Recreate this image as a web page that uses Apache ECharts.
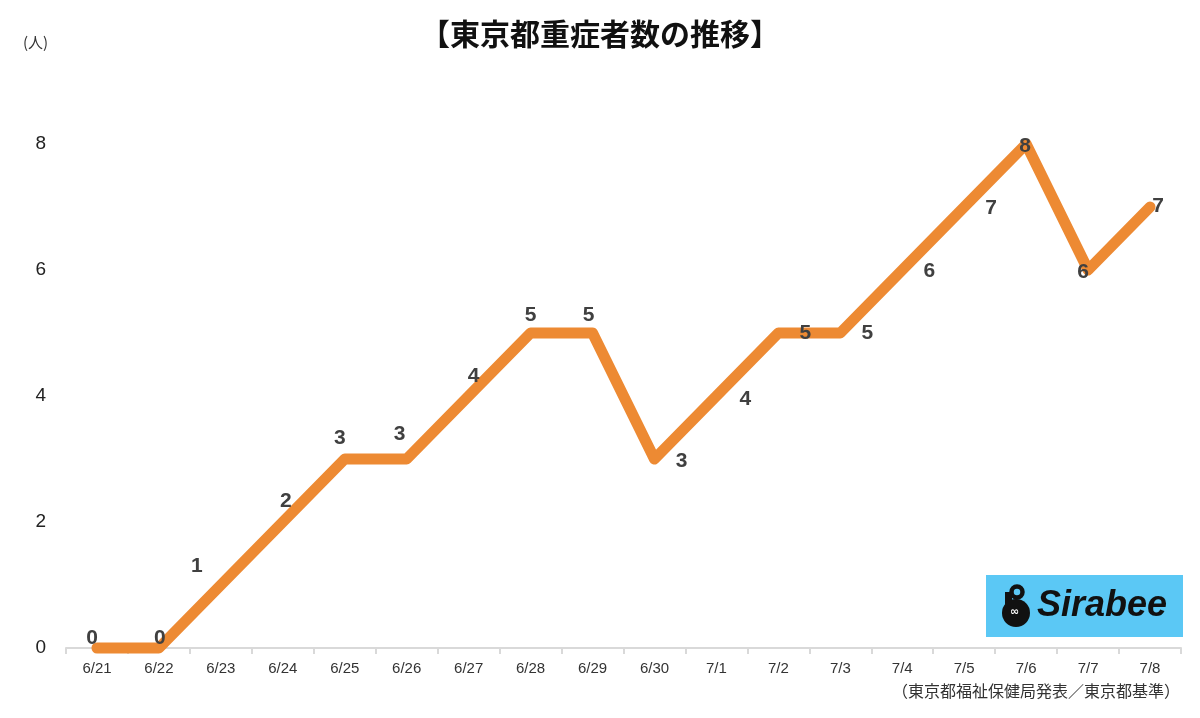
<!DOCTYPE html>
<html>
<head>
<meta charset="utf-8">
<script src="https://cdn.jsdelivr.net/npm/echarts@6/dist/echarts.min.js"></script>
<style>html,body{margin:0;padding:0;background:#fff}#c{width:1200px;height:718px}</style>
</head>
<body>
<div id="c"></div>
<script>
const categories = ['6/21','6/22','6/23','6/24','6/25','6/26','6/27','6/28','6/29','6/30','7/1','7/2','7/3','7/4','7/5','7/6','7/7','7/8'];
const values = [0,0,1,2,3,3,4,5,5,3,4,5,5,6,7,8,6,7];
const yTicks = [0,2,4,6,8];
const titleText = '【東京都重症者数の推移】';
const unitText = '(人)';
const sourceText = '（東京都福祉保健局発表／東京都基準）';

// label placement per point [dx, dy]
const labelOffsets = [[-5,-10],[1,-10],[-24,-19],[3,-21],[-5,-21],[-7,-25],[5,-20],[0,-18],[-4,-18],[27,2],[29,3],[27,0],[27,0],[27,1],[27,1],[-1,2],[-5,2],[8,-1]];

const chart = echarts.init(document.getElementById('c'));
const data = values.map((v,i)=>({
  value: v,
  label: { offset: labelOffsets[i] }
}));
chart.setOption({
  animation: false,
  backgroundColor: '#fff',
  title: {
    text: titleText, left: 'center', top: 14,
    textStyle: { fontSize: 30, fontWeight: 'bold', color: '#111', fontFamily: 'Noto Sans CJK JP' }
  },
  graphic: [
    { type: 'text', left: 23, top: 35, style: { text: unitText, fill: '#333', font: '15px "Noto Sans CJK JP"' } },
    { type: 'text', right: 20, top: 683, style: { text: sourceText, fill: '#333', font: '16px "Noto Sans CJK JP"' } },
    { type: 'rect', shape: { x: 986, y: 575, width: 197, height: 62 }, style: { fill: '#5BC8F5' } },
    { type: 'circle', shape: { cx: 1016, cy: 613, r: 14 }, style: { fill: '#111' } },
    { type: 'circle', shape: { cx: 1017, cy: 592, r: 5.5 }, style: { fill: 'none', stroke: '#111', lineWidth: 4.5 } },
    { type: 'rect', shape: { x: 1005, y: 592, width: 7, height: 16 }, style: { fill: '#111' } },
    { type: 'text', x: 1010, y: 607, style: { text: '∞', fill: '#fff', font: 'bold 11px "DejaVu Sans"' } },
    { type: 'text', x: 1037, y: 588, style: { text: 'Sirabee', fill: '#111', font: 'italic bold 36px "Liberation Sans"' } }
  ],
  grid: { left: 66, right: 19, top: 144, bottom: 70 },
  xAxis: {
    type: 'category', data: categories, boundaryGap: true,
    axisLine: { lineStyle: { color: '#d9d9d9', width: 2 } },
    axisTick: { show: true, lineStyle: { color: '#d9d9d9', width: 2 }, length: 6 },
    axisLabel: { color: '#333', fontSize: 15, margin: 13, fontFamily: 'Liberation Sans' }
  },
  yAxis: {
    type: 'value', min: yTicks[0], max: yTicks[yTicks.length-1], interval: 2,
    axisLine: { show: false }, axisTick: { show: false }, splitLine: { show: false },
    axisLabel: { color: '#222', fontSize: 19, margin: 20, fontFamily: 'Liberation Sans' }
  },
  series: [{
    type: 'line', data: data, showSymbol: true, symbol: 'circle', symbolSize: 2,
    itemStyle: { color: 'rgba(0,0,0,0)', borderWidth: 0 }, clip: false,
    lineStyle: { color: '#ED8A33', width: 11, join: 'round', cap: 'round' },
    label: { show: true, position: 'inside', color: '#404040', fontSize: 21, fontWeight: 'bold', fontFamily: 'Liberation Sans' }
  }]
});
</script>
</body>
</html>
